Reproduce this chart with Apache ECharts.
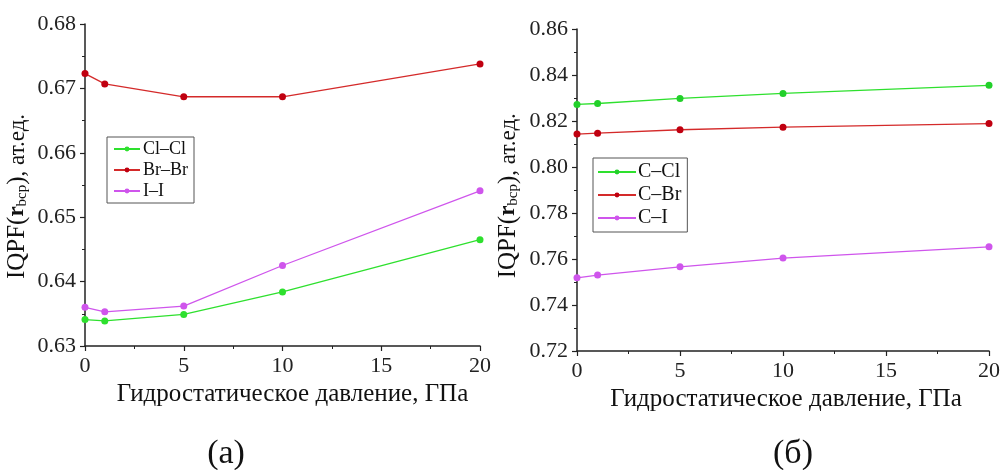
<!DOCTYPE html>
<html>
<head>
<meta charset="utf-8">
<script src="https://cdn.jsdelivr.net/npm/echarts@6/dist/echarts.min.js"></script>
<style>
  html, body { margin: 0; padding: 0; background: #fff; }
  #chart { width: 1004px; height: 470px; }
</style>
</head>
<body>
<div id="chart"></div>
<script>
// Hydrostatic pressure, GPa
const pressure = [0, 1, 5, 10, 20];

// Panel (а): homonuclear halogen contacts
const clcl = [0.6341, 0.6339, 0.6349, 0.6384, 0.6465];
const brbr = [0.6723, 0.6707, 0.6687, 0.6687, 0.6738];
const ii   = [0.6360, 0.6353, 0.6362, 0.6425, 0.6541];

// Panel (б): carbon–halogen bonds
const ccl = [0.8272, 0.8276, 0.8298, 0.8320, 0.8355];
const cbr = [0.8143, 0.8147, 0.8162, 0.8173, 0.8189];
const ci  = [0.7518, 0.7530, 0.7566, 0.7604, 0.7653];

const xTicks = [0, 5, 10, 15, 20];
const yTicksA = [0.63, 0.64, 0.65, 0.66, 0.67, 0.68];
const yTicksB = [0.72, 0.74, 0.76, 0.78, 0.80, 0.82, 0.84, 0.86];

const FONT = '"Liberation Serif", "DejaVu Serif", serif';
const GREEN = '#2ee02e', RED = '#d42a2a', RED_M = '#c00010', VIOLET = '#cf55ec';

const pairs = xs => pressure.map((p, i) => [p, xs[i]]);

// rotated axis title; trailing blanks nudge the text towards the axis start
const yName = pad => '{p|IQPF(}{b|r}{s|bcp}{p|)}{n|, ат.ед.' + ' '.repeat(pad) + '}';
const yNameStyle = {
  fontFamily: FONT, color: '#111',
  rich: {
    p: { fontFamily: FONT, fontSize: 25, color: '#111' },
    n: { fontFamily: FONT, fontSize: 23, color: '#111' },
    b: { fontFamily: FONT, fontSize: 23, fontWeight: 'bold', color: '#111' },
    s: { fontFamily: FONT, fontSize: 15, color: '#111', padding: [9, 0, 0, 0] }
  }
};

function xAxis(gridIndex, shift) {
  return {
    type: 'value', gridIndex, min: xTicks[0], max: xTicks[xTicks.length - 1], interval: 5,
    name: 'Гидростатическое давление, ГПа', nameLocation: 'middle', nameGap: 34,
    nameTextStyle: { fontFamily: FONT, fontSize: 25, color: '#111', padding: [0, 0, 0, shift] },
    axisLine: { lineStyle: { color: '#222', width: 1.5 } },
    axisTick: { length: 5, lineStyle: { color: '#222', width: 1.2 } },
    minorTick: { show: true, splitNumber: 2, length: 3, lineStyle: { color: '#222' } },
    axisLabel: { fontFamily: FONT, fontSize: 22, color: '#222', margin: 9 },
    splitLine: { show: false }
  };
}

function yAxis(gridIndex, ticks, interval, gap, pad) {
  return {
    type: 'value', gridIndex, min: ticks[0], max: ticks[ticks.length - 1], interval,
    name: yName(pad), nameLocation: 'middle', nameRotate: 90, nameGap: gap,
    nameTextStyle: yNameStyle,
    axisLine: { show: true, lineStyle: { color: '#222', width: 1.5 } },
    axisTick: { show: true, length: 5, lineStyle: { color: '#222', width: 1.2 } },
    minorTick: { show: true, splitNumber: 2, length: 3, lineStyle: { color: '#222' } },
    axisLabel: { fontFamily: FONT, fontSize: 22, color: '#222', margin: 9,
                 formatter: v => v.toFixed(2) },
    splitLine: { show: false }
  };
}

function line(name, data, xi, color, markColor, size) {
  return {
    name, type: 'line', xAxisIndex: xi, yAxisIndex: xi, data: pairs(data),
    symbol: 'circle', symbolSize: size, clip: false,
    lineStyle: { color, width: 1.3 },
    itemStyle: { color: markColor, borderWidth: 0 },
    emphasis: { disabled: true }
  };
}

const chart = echarts.init(document.getElementById('chart'), null, { renderer: 'canvas' });
chart.setOption({
  animation: false,
  backgroundColor: '#fff',
  title: [
    { text: '(а)', left: 221, top: 432, textAlign: 'center',
      textStyle: { fontFamily: FONT, fontSize: 34, fontWeight: 'normal', color: '#111' } },
    { text: '(б)', left: 788, top: 432, textAlign: 'center',
      textStyle: { fontFamily: FONT, fontSize: 34, fontWeight: 'normal', color: '#111' } }
  ],
  grid: [
    { left: 85, top: 24, width: 395, height: 322, outerBoundsMode: 'none' },
    { left: 577, top: 29, width: 412, height: 322, outerBoundsMode: 'none' }
  ],
  xAxis: [xAxis(0, 20), xAxis(1, 6)],
  yAxis: [yAxis(0, yTicksA, 0.01, 55, 4), yAxis(1, yTicksB, 0.02, 56, 2)],
  legend: [
    { data: ['Cl–Cl', 'Br–Br', 'I–I'], orient: 'vertical', left: 107, top: 137,
      itemWidth: 26, itemHeight: 6, itemGap: 3, padding: [3, 6, 3, 6],
      borderColor: '#555', borderWidth: 1, borderRadius: 0,
      textStyle: { fontFamily: FONT, fontSize: 18, color: '#111', padding: [0, 0, 0, -2] } },
    { data: ['C–Cl', 'C–Br', 'C–I'], orient: 'vertical', left: 593, top: 158,
      itemWidth: 38, itemHeight: 6, itemGap: 3, padding: [4, 6, 4, 4],
      borderColor: '#555', borderWidth: 1, borderRadius: 0,
      textStyle: { fontFamily: FONT, fontSize: 20, color: '#111', padding: [0, 0, 0, -3] } }
  ],
  series: [
    line('Cl–Cl', clcl, 0, GREEN, GREEN, 7),
    line('Br–Br', brbr, 0, RED, RED_M, 7),
    line('I–I', ii, 0, VIOLET, VIOLET, 7),
    line('C–Cl', ccl, 1, GREEN, '#22d02a', 7),
    line('C–Br', cbr, 1, RED, RED_M, 7),
    line('C–I', ci, 1, VIOLET, VIOLET, 7)
  ]
});
</script>
</body>
</html>
